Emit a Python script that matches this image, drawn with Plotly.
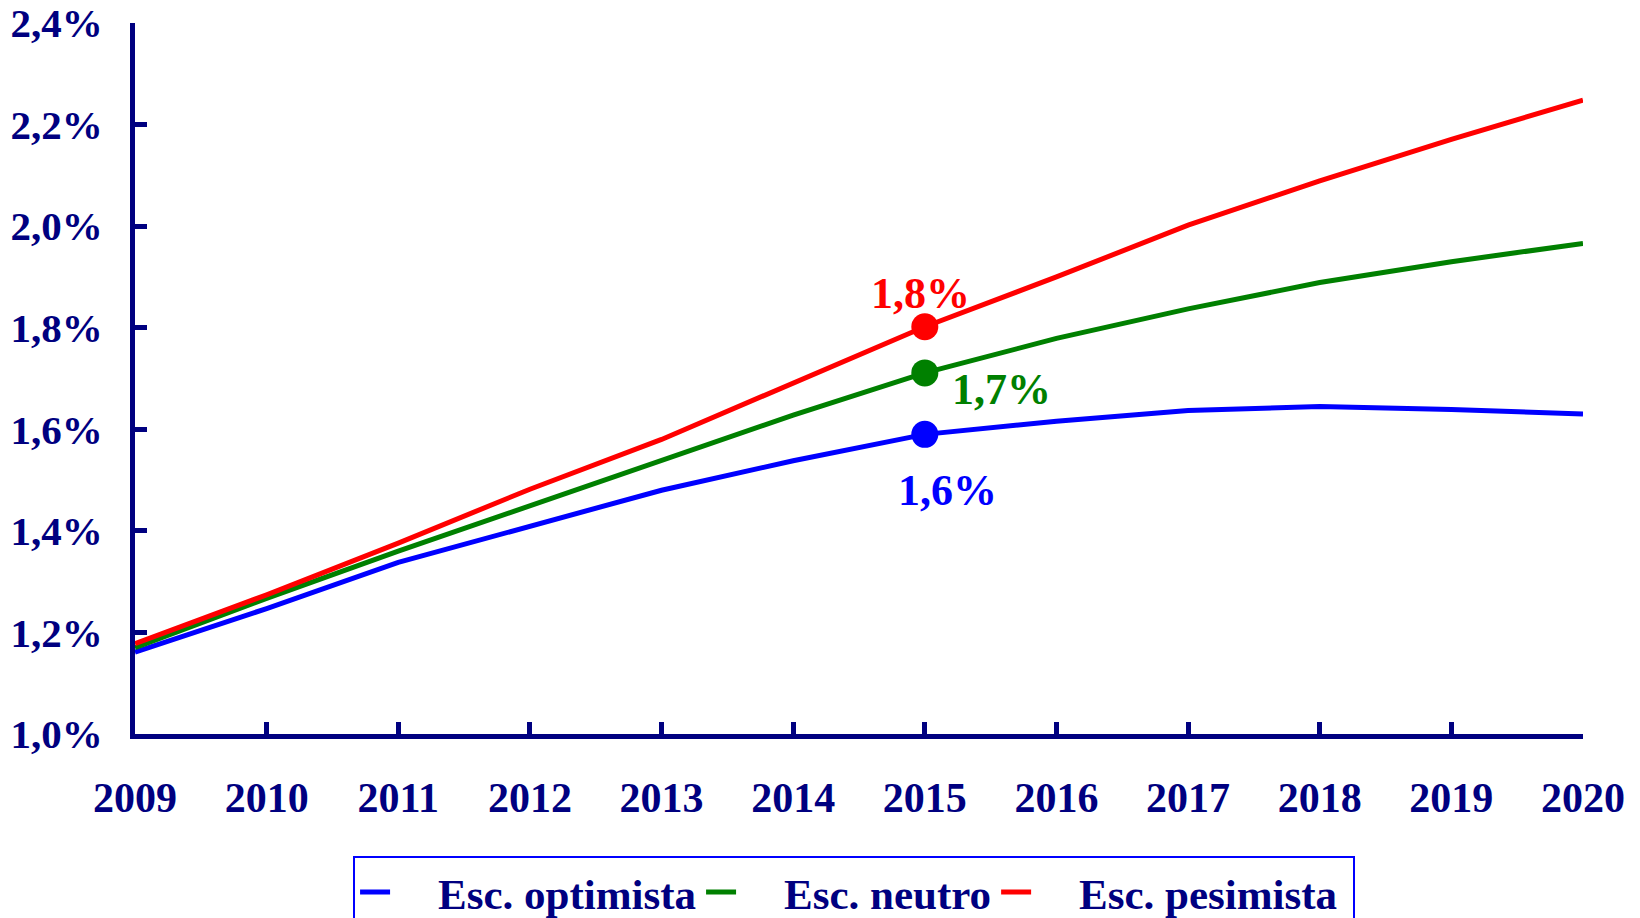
import plotly.graph_objects as go

years = [2009, 2010, 2011, 2012, 2013, 2014, 2015, 2016, 2017, 2018, 2019, 2020]
optimista = [1.161, 1.247, 1.338, 1.409, 1.480, 1.538, 1.590, 1.616, 1.637, 1.645, 1.639, 1.630]
neutro = [1.170, 1.267, 1.360, 1.449, 1.539, 1.628, 1.711, 1.779, 1.837, 1.889, 1.930, 1.966]
pesimista = [1.178, 1.274, 1.376, 1.482, 1.580, 1.691, 1.802, 1.900, 2.002, 2.089, 2.171, 2.248]
series_names = ["Esc. optimista", "Esc. neutro", "Esc. pesimista"]
colors = ["#0000FF", "#008000", "#FF0000"]
y_ticks = [1.0, 1.2, 1.4, 1.6, 1.8, 2.0, 2.2, 2.4]
y_tick_labels = ["1,0%", "1,2%", "1,4%", "1,6%", "1,8%", "2,0%", "2,2%", "2,4%"]
highlight_year = 2015
highlight_labels = ["1,6%", "1,7%", "1,8%"]

NAVY = "#000080"
FONT = "Liberation Serif"
NB = "\u00a0"

fig = go.Figure()
all_series = [optimista, neutro, pesimista]
for i, (name, vals, col) in enumerate(zip(series_names, all_series, colors)):
    suffix = NB if i == len(series_names) - 1 else ""
    fig.add_trace(go.Scatter(x=years, y=vals, mode="lines",
                             name=NB * 4 + f"<b>{name}</b>" + suffix,
                             line=dict(color=col, width=5)))
idx = years.index(highlight_year)
for vals, col in zip(all_series, colors):
    fig.add_trace(go.Scatter(x=[highlight_year], y=[vals[idx]], mode="markers",
                             marker=dict(color=col, size=27), showlegend=False,
                             hoverinfo="skip"))

# label shifts in pixels (plotly: positive yshift = up)
shifts = [(23, -56), (77, -17), (-4, 33)]
for vals, col, lab, (dx, dy) in zip(all_series, colors, highlight_labels, shifts):
    fig.add_annotation(x=highlight_year, y=vals[idx], text=f"<b>{lab}</b>",
                       showarrow=False, xshift=dx, yshift=dy,
                       font=dict(family=FONT, size=44, color=col))

fig.update_layout(
    width=1640, height=918,
    paper_bgcolor="white", plot_bgcolor="white",
    margin=dict(l=127, r=65, t=15, b=192, autoexpand=False),
    font=dict(family=FONT, color=NAVY, size=42),
    showlegend=True,
    legend=dict(orientation="h", x=0.1506, y=-0.171, xanchor="left", yanchor="top",
                bordercolor="#0000FF", borderwidth=2, bgcolor="white",
                font=dict(family=FONT, size=43, color=NAVY),
                tracegroupgap=0),
    xaxis=dict(range=[2009, 2020], tickmode="array", tickvals=years,
               ticktext=[f"<b>{y}</b>" for y in years],
               showgrid=False, zeroline=False, showline=True, linecolor=NAVY,
               linewidth=5, ticks="inside", ticklen=12, tickwidth=5, tickcolor=NAVY,
               ticklabeloverflow="allow",
               ticklabelstandoff=23, tickfont=dict(family=FONT, size=42, color=NAVY)),
    yaxis=dict(range=[1.0, 2.4], tickmode="array", tickvals=y_ticks,
               ticktext=[f"<b>{t}</b>" for t in y_tick_labels],
               showgrid=False, zeroline=False, showline=True, linecolor=NAVY,
               linewidth=5, ticks="inside", ticklen=12, tickwidth=5, tickcolor=NAVY,
               ticklabeloverflow="allow",
               ticklabelstandoff=19, tickfont=dict(family=FONT, size=41, color=NAVY)),
)

fig.write_html("out.html")
